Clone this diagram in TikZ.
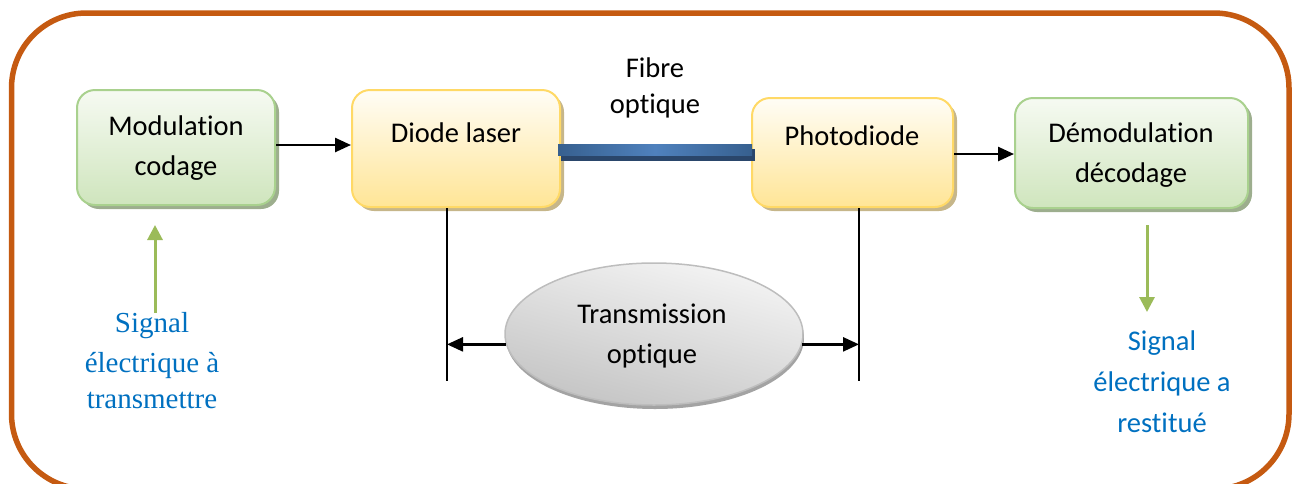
\documentclass[tikz,border=0pt]{standalone}
\usepackage{fontspec}
\setmainfont{Carlito}[Ligatures=NoCommon]
\newfontfamily\timesblue{Liberation Serif}[Ligatures=NoCommon]
\usetikzlibrary{arrows.meta,shapes.geometric,shadows,calc}

\definecolor{frameorange}{HTML}{C55A11}
\definecolor{greentop}{HTML}{F6FAF2}
\definecolor{greenbot}{HTML}{CFE5BD}
\definecolor{greenline}{HTML}{A9D18E}
\definecolor{greenshadow}{HTML}{9DAE8E}
\definecolor{yellowtop}{HTML}{FFFDF6}
\definecolor{yellowbot}{HTML}{FFE596}
\definecolor{yellowline}{HTML}{FFD966}
\definecolor{yellowshadow}{HTML}{C6B68A}
\definecolor{fibreedge}{HTML}{37608F}
\definecolor{fibremid}{HTML}{4F81BD}
\definecolor{fibreshadow}{HTML}{2A466B}
\definecolor{greytop}{HTML}{F4F4F4}
\definecolor{greybot}{HTML}{C4C4C4}
\definecolor{greyline}{HTML}{BDBDBD}
\definecolor{greyshadow}{HTML}{A3A3A3}
\definecolor{signalblue}{HTML}{0070C0}
\definecolor{signalgreen}{HTML}{9BBB59}

\tikzset{
  frame/.style={draw=frameorange, line width=5.5pt, rounded corners=75pt},
  block/.style={rectangle, rounded corners=18pt, line width=2pt, inner sep=0pt},
  greenbox/.style={block, draw=greenline, top color=greentop, bottom color=greenbot,
    drop shadow={shadow xshift=4pt, shadow yshift=-4pt, fill=greenshadow, opacity=1}},
  yellowbox/.style={block, draw=yellowline, top color=yellowtop, bottom color=yellowbot,
    drop shadow={shadow xshift=4pt, shadow yshift=-4pt, fill=yellowshadow, opacity=1}},
  oval/.style={ellipse, inner sep=0pt, line width=1.5pt, draw=greyline,
    top color=greytop, bottom color=greybot, shading angle=-15,
    drop shadow={shadow xshift=1pt, shadow yshift=-4pt, fill=greyshadow, opacity=1}},
  lbl/.style={anchor=base, inner sep=0pt, font=\fontsize{28.5}{34}\selectfont},
  bluelbl/.style={lbl, text=signalblue},
  serifblue/.style={anchor=base, inner sep=0pt, text=signalblue,
    font=\timesblue\fontsize{29}{34}\selectfont},
  arr/.style={line width=2.5pt, -{Triangle[length=16pt,width=14pt]}},
  bar/.style={line width=2.5pt},
  garr/.style={draw=signalgreen, line width=3pt,
    -{Triangle[length=15pt,width=15pt]}},
}

\begin{document}
\begin{tikzpicture}[x=1pt, y=-1pt]
\useasboundingbox (0,0) rectangle (1296,483);
\clip (0,0) rectangle (1296,483);

% outer frame, its lower edge runs just below the page
\draw[frame] (11.5,13) rectangle (1289,489);

% processing blocks
\node[greenbox,  minimum width=198pt, minimum height=115pt] (mod)  at (176,147.5) {};
\node[yellowbox, minimum width=208pt, minimum height=117pt] (dl)   at (456,148.5) {};
\node[yellowbox, minimum width=201pt, minimum height=109pt] (pd)   at (852.5,152.5) {};
\node[greenbox,  minimum width=233pt, minimum height=110pt] (demod) at (1131.5,153) {};

\node[lbl] (mod1) at (176,135) {Modulation};
\node[lbl] (mod2) at (176,175) {codage};
\node[lbl] (dl1)  at (456,142) {Diode laser};
\node[lbl] (pd1)  at (852,145) {Photodiode};
\node[lbl] (dm1)  at (1131,142) {Démodulation};
\node[lbl] (dm2)  at (1131,182) {décodage};

% optical fibre between emitter and receiver
\fill[fibreshadow] ($(dl.east)+(0,0.5)$) rectangle ($(pd.west)+(4,8.5)$);
\shade[left color=fibreedge, right color=fibreedge, middle color=fibremid]
  ($(dl.east)+(-3,-4.5)$) rectangle ($(pd.west)+(1,2.5)$);
\node[lbl] (fib1) at (655,77) {Fibre};
\node[lbl] (fib2) at (655,113) {optique};

% signal flow between blocks
\draw[arr] (mod.east |- 0,145) -- (dl.west |- 0,145);
\draw[arr] (pd.east |- 0,154) -- (demod.west |- 0,154);

% optical transmission span
\coordinate (lb) at ($(dl.south)+(-9,173)$);
\coordinate (rb) at ($(pd.south)+(6.5,173)$);
\draw[bar] ($(dl.south)+(-9,0)$) -- (lb);
\draw[bar] ($(pd.south)+(6.5,0)$) -- (rb);

\node[oval, minimum width=298pt, minimum height=142pt] (tr) at (654,334) {};
\node[lbl] (tr1) at (652,323) {Transmission};
\node[lbl] (tr2) at (652,363) {optique};
\draw[arr] (tr.184) -- (tr.184 -| lb);
\draw[arr] (tr.356) -- (tr.356 -| rb);

% electrical input and output
\coordinate (inbase) at (155,313);
\coordinate (outtop) at (1147,225);
\draw[garr] (inbase) -- (inbase |- 0,225);
\draw[garr] (outtop) -- (outtop |- 0,312);

\node[serifblue] (in1) at (152,332) {Signal};
\node[serifblue] (in2) at (152,372) {électrique à};
\node[serifblue] (in3) at (152,408) {transmettre};

\node[bluelbl] (out1) at (1162,350) {Signal};
\node[bluelbl] (out2) at (1162,391) {électrique a};
\node[bluelbl] (out3) at (1162,432) {restitué};
\end{tikzpicture}
\end{document}
